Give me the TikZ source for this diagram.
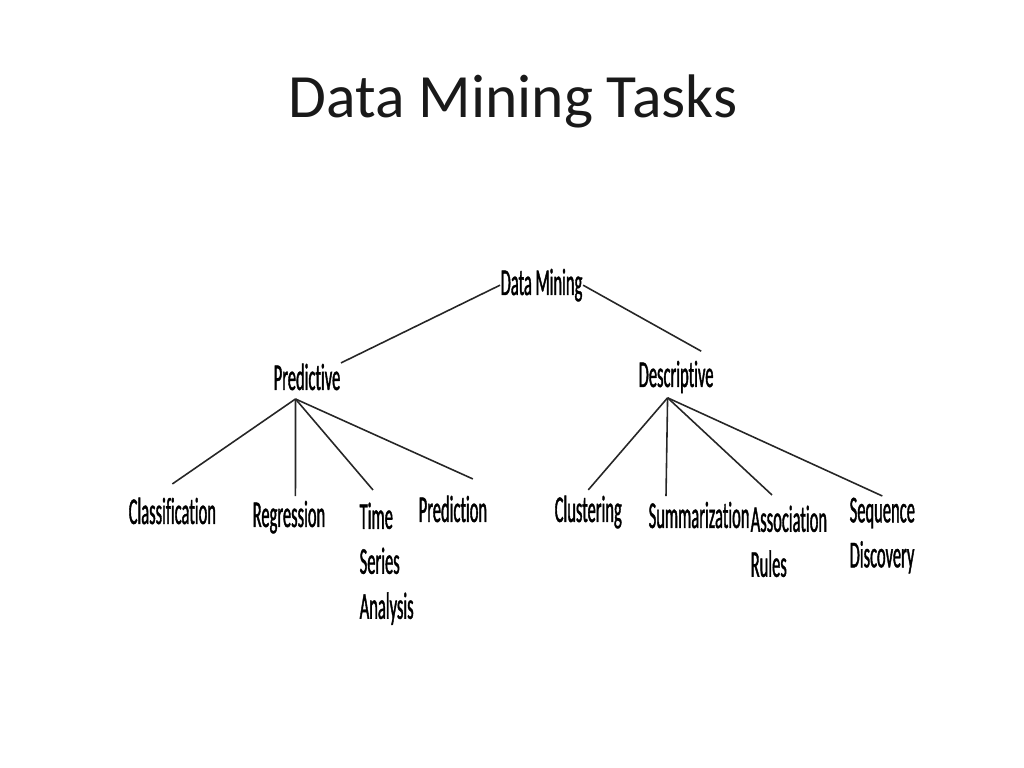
\documentclass[tikz,border=0pt]{standalone}
\usepackage{fontspec}
\setmainfont{Carlito}
\newfontfamily\treefont[FakeStretch=0.435,FakeBold=1,Ligatures=NoCommon]{Carlito}
\usetikzlibrary{positioning}

\begin{document}
\begin{tikzpicture}[
  task/.style={inner sep=0pt, anchor=base west, text=black, font=\treefont\fontsize{10.8}{12.8}\selectfont},
  multitask/.style={task, anchor=north west, align=left},
  branch/.style={black!85, line width=0.45pt}]
\useasboundingbox (0,0) rectangle (10.24,7.68);

\node[inner sep=0pt, anchor=base, text=black!90, font=\fontsize{17.5}{20}\selectfont] (title) at (5.13,6.50) {Data Mining Tasks};

\node[task] (dm) at (5.00,4.73) {Data Mining};
\node[task] (pred) at (2.73,3.78) {Predictive};
\node[task] (desc) at (6.38,3.81) {Descriptive};

\node[task] (class) at (1.28,2.44) {Classification};
\node[task] (reg) at (2.52,2.41) {Regression};
\node[multitask] (time) at (3.59,2.66) {Time\\Series\\Analysis};
\node[task] (predn) at (4.18,2.46) {Prediction};

\node[task] (clus) at (5.54,2.46) {Clustering};
\node[task] (summ) at (6.48,2.40) {Summarization};
\node[multitask] (assoc) at (7.50,2.63) {Association\\Rules};
\node[multitask] (seq) at (8.49,2.71) {Sequence\\Discovery};

\draw[branch] (dm.west) -- (pred.north east);
\draw[branch] (dm.east) -- ([xshift=-0.13cm,yshift=0.09cm]desc.north east);

\draw[branch] ([xshift=-0.115cm,yshift=-0.08cm]pred.south) -- ([yshift=0.13cm]class.north);
\draw[branch] ([xshift=-0.115cm,yshift=-0.08cm]pred.south) -- ([xshift=0.065cm,yshift=0.04cm]reg.north);
\draw[branch] ([xshift=-0.115cm,yshift=-0.08cm]pred.south) -- ([xshift=0.14cm,yshift=0.12cm]time.north west);
\draw[branch] ([xshift=-0.115cm,yshift=-0.08cm]pred.south) -- ([xshift=-0.15cm,yshift=0.16cm]predn.north east);

\draw[branch] ([xshift=-0.085cm,yshift=-0.04cm]desc.south) -- ([yshift=0.05cm]clus.north);
\draw[branch] ([xshift=-0.085cm,yshift=-0.04cm]desc.south) -- ([xshift=0.18cm,yshift=0.05cm]summ.north west);
\draw[branch] ([xshift=-0.085cm,yshift=-0.04cm]desc.south) -- ([xshift=0.22cm,yshift=0.1cm]assoc.north west);
\draw[branch] ([xshift=-0.085cm,yshift=-0.04cm]desc.south) -- ([yshift=0.01cm]seq.north);
\end{tikzpicture}
\end{document}
